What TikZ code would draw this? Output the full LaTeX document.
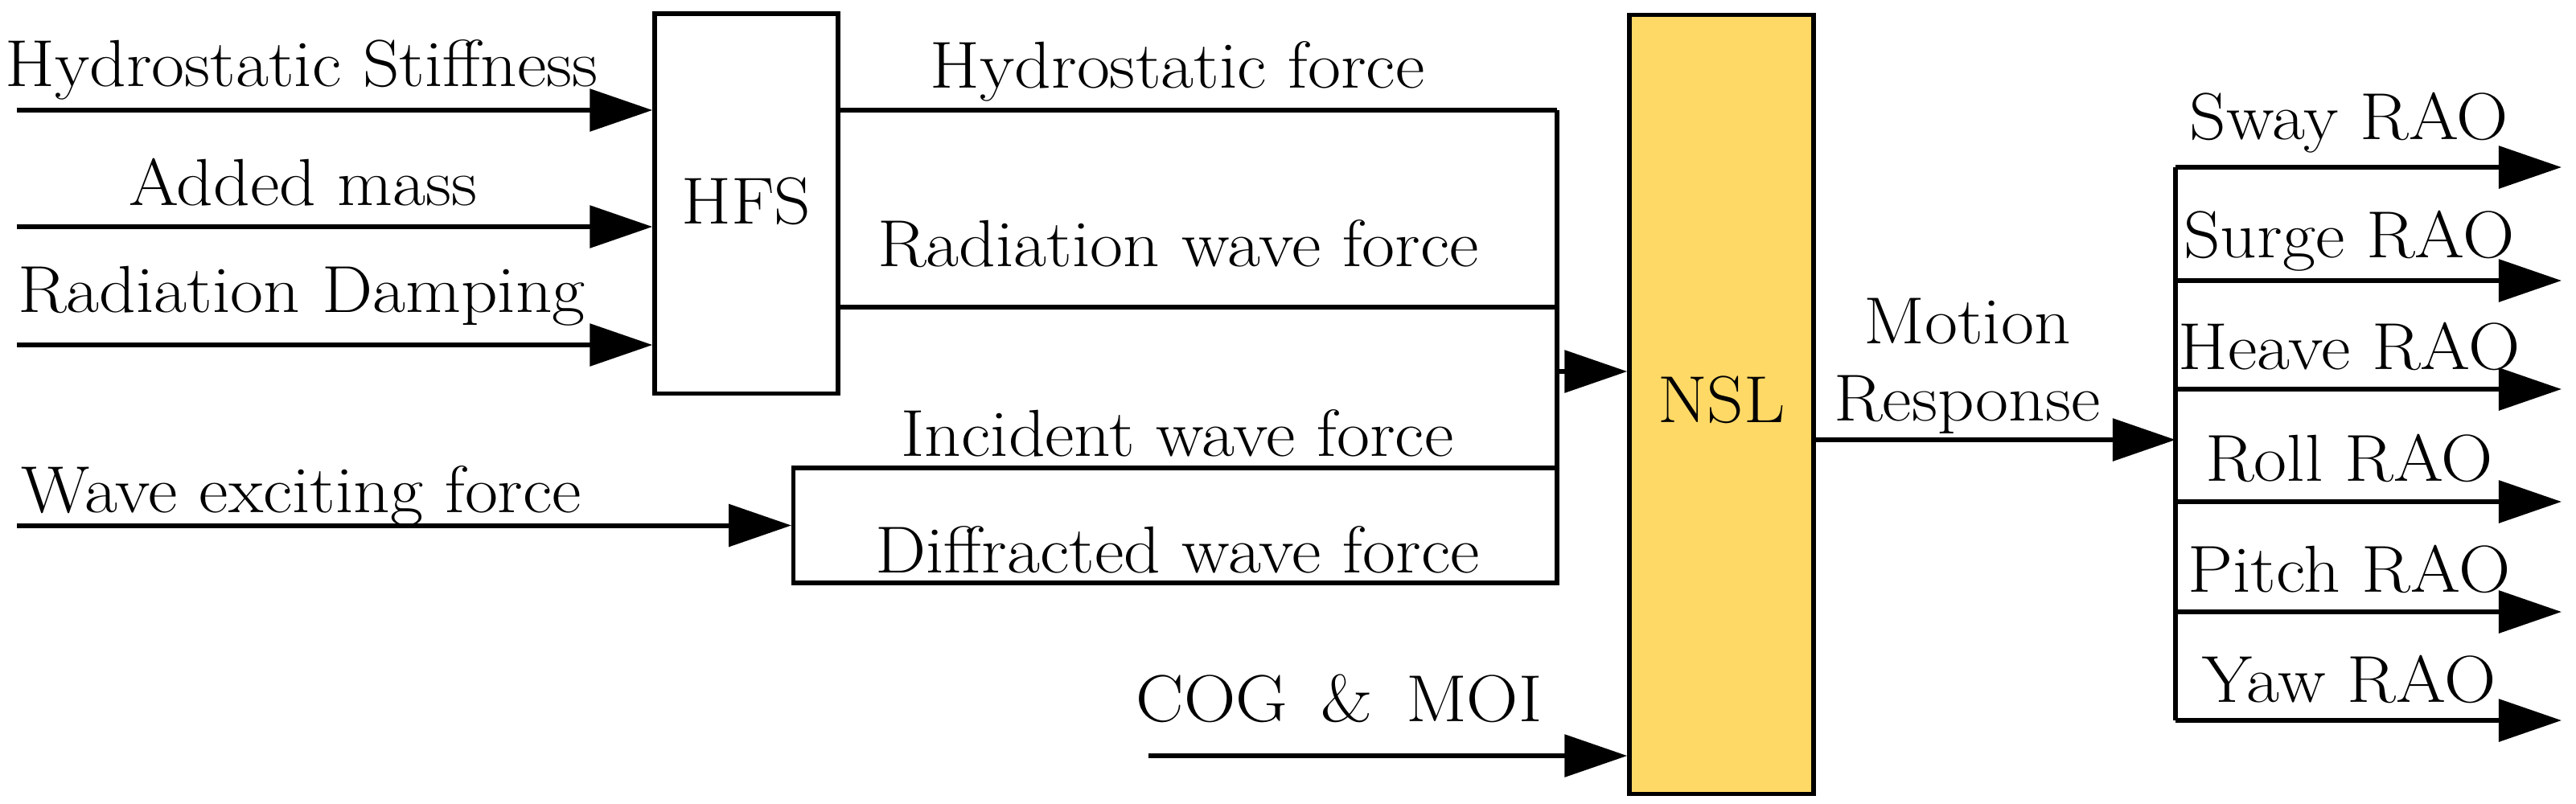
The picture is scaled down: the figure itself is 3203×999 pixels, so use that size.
\documentclass[tikz,border=0pt]{standalone}
\usepackage{fontspec}
\setmainfont{Latin Modern Roman}[FakeStretch=1.08]
\usetikzlibrary{arrows.meta}
\definecolor{nslfill}{HTML}{FFD966}
\begin{document}
\begin{tikzpicture}[x=0.01cm,y=-0.01cm,
  font=\fontsize{23.5}{28}\selectfont,
  box/.style={draw=black,line width=1.5pt,inner sep=0pt},
  wire/.style={line width=1.7pt},
  arr/.style={line width=1.7pt,-{Triangle[length=0.78cm,width=0.52cm]}},
  lbl/.style={anchor=base,inner sep=0pt}]
\useasboundingbox (0,0) rectangle (3203,999);
% blocks
\node[box,minimum width=2.28cm,minimum height=4.72cm] (hfs) at (928,253) {};
\node[lbl] (hfst) at (928,278) {HFS};
\node[box,fill=nslfill,minimum width=2.29cm,minimum height=9.68cm] (nsl) at (2140.5,503) {};
\node[lbl] (nslt) at (2140.5,525) {NSL};
\node[box,minimum width=9.49cm,minimum height=1.43cm] (wf) at (1461.5,653.5) {};
% input arrows to HFS
\coordinate (hsin) at (21,137);
\coordinate (amin) at (21,282);
\coordinate (rdin) at (21,429);
\draw[arr] (hsin) -- (hsin -| hfs.west);
\draw[arr] (amin) -- (amin -| hfs.west);
\draw[arr] (rdin) -- (rdin -| hfs.west);
\node[lbl] (l1) at (375,107) {Hydrostatic Stiffness};
\node[lbl] (l2) at (377,255) {Added mass};
\node[lbl] (l3) at (375,388) {Radiation Damping};
% wave exciting
\coordinate (wein) at (21,653.5);
\draw[arr] (wein) -- (wf.west);
\node[lbl] (l4) at (375,637) {Wave exciting force};
% HFS outputs and collector
\coordinate (hfA) at (1936,137);
\coordinate (hfB) at (1936,382);
\coordinate (colbot) at (1936,725);
\coordinate (colmid) at (1936,462);
\draw[wire] (hfA -| hfs.east) -- (hfA);
\draw[wire] (hfB -| hfs.east) -- (hfB);
\draw[wire] (hfA) -- (colbot);
\draw[arr] (colmid) -- (colmid -| nsl.west);
\node[lbl] (l5) at (1464,109) {Hydrostatic force};
\node[lbl] (l6) at (1465,331) {Radiation wave force};
\node[lbl] (l7) at (1464,567) {Incident wave force};
\node[lbl] (l8) at (1464,712) {Diffracted wave force};
% COG
\coordinate (cogin) at (1428,940);
\draw[arr] (cogin) -- (cogin -| nsl.west);
\node[lbl] (l9) at (1665,897) {COG\hskip0.5em\&\hskip0.5em MOI};
% motion response
\coordinate (mrend) at (2705,547);
\draw[arr] (mrend -| nsl.east) -- (mrend);
\node[lbl] (l10) at (2446,427) {Motion};
\node[lbl] (l11) at (2446,523) {Response};
\coordinate (busT) at (2705,208);
\coordinate (busB) at (2705,896);
\draw[wire] (busT) -- (busB);
\foreach \yy/\txt/\bl in {208/Sway RAO/173, 349/Surge RAO/320, 484/Heave RAO/459, 624/Roll RAO/598, 761/Pitch RAO/736, 896/Yaw RAO/873}{
  \draw[arr] (2705,\yy) -- (3185,\yy);
  \node[lbl] at (2921,\bl) {\txt};
}
\end{tikzpicture}
\end{document}
